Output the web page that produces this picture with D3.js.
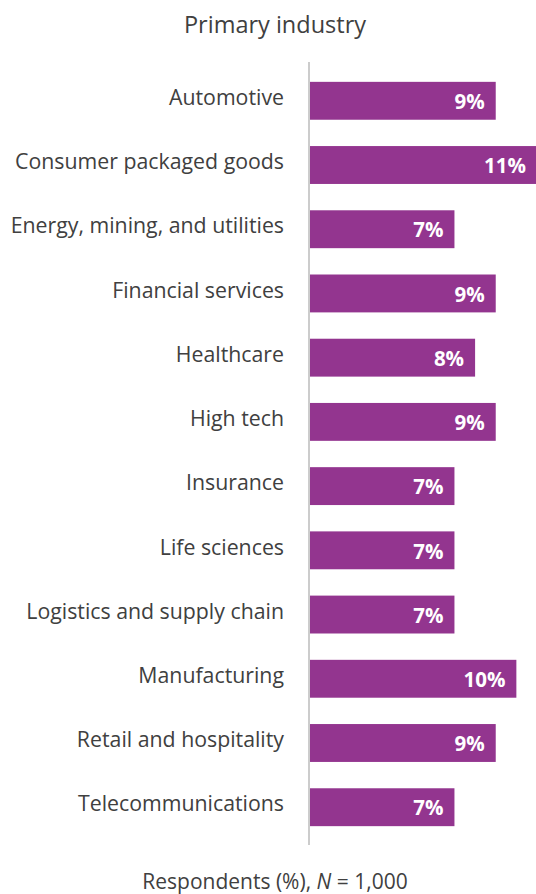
<!DOCTYPE html>
<html>
<head>
<meta charset="utf-8">
<script src="https://cdn.jsdelivr.net/npm/d3@7"></script>
<style>
  html, body { margin: 0; padding: 0; background: #fff; }
  svg { display: block; font-family: "Open Sans", "Noto Sans", sans-serif; }
</style>
</head>
<body>
<svg id="chart" width="536" height="894"></svg>
<script>
// Share of respondents by primary industry
const categories = [
  "Automotive",
  "Consumer packaged goods",
  "Energy, mining, and utilities",
  "Financial services",
  "Healthcare",
  "High tech",
  "Insurance",
  "Life sciences",
  "Logistics and supply chain",
  "Manufacturing",
  "Retail and hospitality",
  "Telecommunications"
];
const values = [9, 11, 7, 9, 8, 9, 7, 7, 7, 10, 9, 7];
const title = "Primary industry";

const svg = d3.select("#chart");
const barColor = "#93358f";
const textColor = "#404040";

const x = d3.scaleLinear().domain([0, 11]).range([310, 537]);
const y = d3.scaleBand().domain(categories).range([69, 839]).paddingInner(0.41).paddingOuter(0.2);

// Title
svg.append("text")
  .attr("x", 275).attr("y", 33)
  .attr("text-anchor", "middle")
  .attr("fill", textColor)
  .style("font-size", "23.5px")
  .text(title);

// Bars
svg.selectAll("rect.bar")
  .data(values)
  .join("rect")
  .attr("class", "bar")
  .attr("x", x(0))
  .attr("y", (d, i) => y(categories[i]))
  .attr("width", d => x(d) - x(0))
  .attr("height", y.bandwidth())
  .attr("fill", barColor);

// Baseline
svg.append("line")
  .attr("x1", 309).attr("x2", 309)
  .attr("y1", 62).attr("y2", 845)
  .attr("stroke", "#cccccc")
  .attr("stroke-width", 2);

// Category labels
const yAxis = d3.axisLeft(y).tickSize(0).tickPadding(0);
const axisG = svg.append("g").attr("transform", "translate(284,0)").call(yAxis);
axisG.select(".domain").remove();
axisG.selectAll("text")
  .attr("fill", textColor)
  .style("font-size", "21.3px")
  .style("font-family", "\"Open Sans\", \"Noto Sans\", sans-serif")
  .attr("dy", "0.2em");

// Value labels inside bars
svg.selectAll("text.val")
  .data(values)
  .join("text")
  .attr("class", "val")
  .attr("x", d => x(d) - 11)
  .attr("y", (d, i) => y(categories[i]) + y.bandwidth() / 2)
  .attr("dy", "0.4em")
  .attr("text-anchor", "end")
  .attr("fill", "#ffffff")
  .style("font-size", "20.5px")
  .style("font-weight", "700")
  .text(d => d + "%");

// Footnote
const foot = svg.append("text")
  .attr("x", 275).attr("y", 889)
  .attr("text-anchor", "middle")
  .attr("fill", textColor)
  .style("font-size", "21px");
foot.append("tspan").text("Respondents (%), ");
foot.append("tspan").style("font-style", "italic").text("N");
foot.append("tspan").text(" = 1,000");
</script>
</body>
</html>
